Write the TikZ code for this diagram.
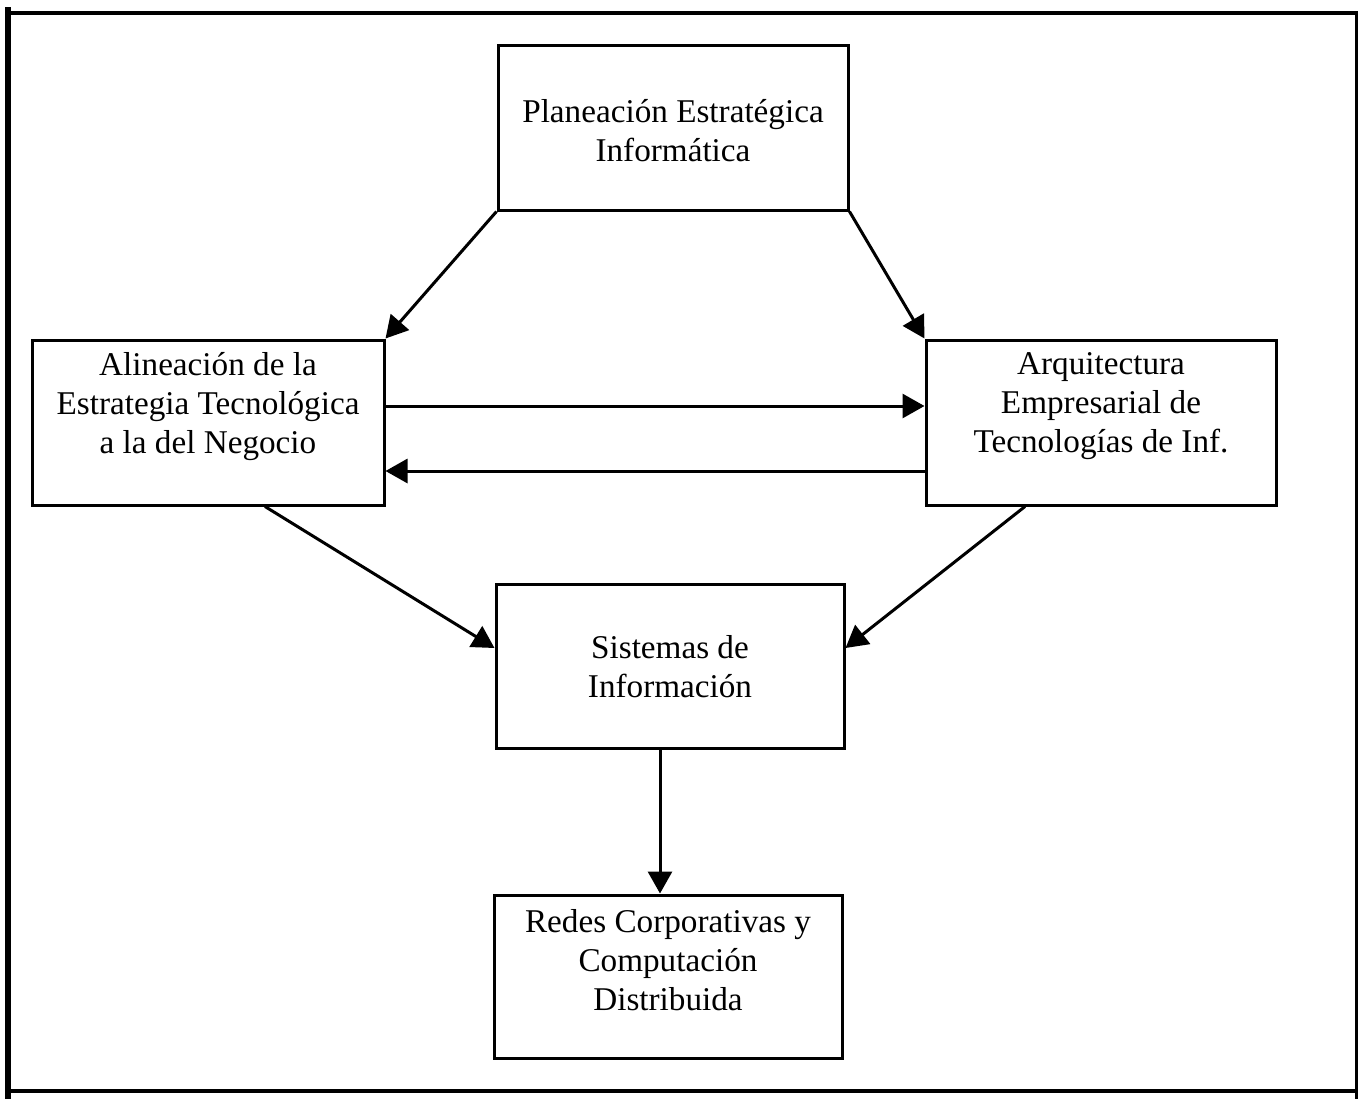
\documentclass[tikz,border=0pt]{standalone}
\usepackage{fontspec}
\setmainfont{Liberation Serif}
\usetikzlibrary{arrows.meta}
\begin{document}
\begin{tikzpicture}[x=0.5pt,y=-0.5pt,
  box/.style={draw=black,line width=1.5pt,rectangle,inner sep=0pt},
  txt/.style={align=center,font=\fontsize{16.6}{19.5}\selectfont,inner sep=0pt},
  conn/.style={line width=1.5pt,-{Triangle[length=11pt,width=12pt]}},
  frame/.style={line width=#1,line cap=rect}]
\useasboundingbox (0,0) rectangle (1360,1098);
% outer frame
\draw[frame=3pt] (8,10) -- (8,1098);
\draw[frame=2.2pt] (8,13) -- (1356,13);
\draw[frame=1.5pt] (1356,13) -- (1356,1097);
\draw[frame=2pt] (8,1091) -- (1356,1091);
% boxes
\node[box,minimum width=175pt,minimum height=82.5pt] (plan) at (673,127.5) {};
\node[txt] at ([yshift=-1.5pt]plan.center) {Planeación Estratégica\\Informática};
\node[box,minimum width=176pt,minimum height=82.5pt] (alin) at (208,422.5) {};
\node[txt] at ([yshift=8pt]alin.center) {Alineación de la\\Estrategia Tecnológica\\a la del Negocio};
\node[box,minimum width=175pt,minimum height=82.5pt] (arq) at (1101,422.5) {};
\node[txt] at ([yshift=8pt]arq.center) {Arquitectura\\Empresarial de\\Tecnologías de Inf.};
\node[box,minimum width=174pt,minimum height=82pt] (sis) at (670,666) {};
\node[txt] at ([yshift=-0.5pt]sis.center) {Sistemas de\\Información};
\node[box,minimum width=174pt,minimum height=81.5pt] (red) at (668,976.5) {};
\node[txt] at ([yshift=8pt]red.center) {Redes Corporativas y\\Computación\\Distribuida};
% connectors
\draw[conn] (plan.south west) -- (alin.north east);
\draw[conn] (plan.south east) -- (arq.north west);
\draw[conn] ([yshift=8.25pt]alin.east) -- ([yshift=8.25pt]arq.west);
\draw[conn] ([yshift=-24.25pt]arq.west) -- ([yshift=-24.25pt]alin.east);
\draw[conn] ([xshift=28.5pt]alin.south) -- ([yshift=9pt]sis.west);
\draw[conn] ([xshift=-38pt]arq.south) -- ([yshift=9pt]sis.east);
\draw[conn] ([xshift=-5pt]sis.south) -- ([xshift=-5pt]sis.south |- red.north);
\end{tikzpicture}
\end{document}
